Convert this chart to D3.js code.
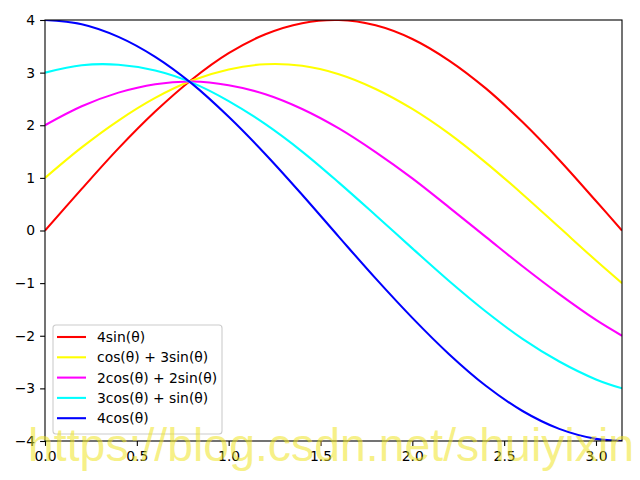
<!DOCTYPE html>
<html>
<head>
<meta charset="utf-8">
<script src="https://cdn.jsdelivr.net/npm/d3@7"></script>
<style>
  body { margin: 0; background: #fff; }
  svg { display: block; font-family: "DejaVu Sans", sans-serif; }
</style>
</head>
<body>
<div class="chart"></div>
<script>
// sampled theta values (0 .. pi)
var theta = [0, 0.2, 0.4, 0.6, 0.8, 1.0, 1.2, 1.4, 1.6, 1.8, 2.0, 2.2, 2.4, 2.6, 2.8, 3.0, 3.1416];

// curve values
var s4sin = [0, 0.79, 1.56, 2.26, 2.87, 3.37, 3.73, 3.94, 4.00, 3.90, 3.64, 3.23, 2.70, 2.06, 1.34, 0.56, 0];
var s1cos3sin = [1.00, 1.58, 2.09, 2.52, 2.85, 3.06, 3.16, 3.13, 2.97, 2.69, 2.31, 1.84, 1.29, 0.69, 0.06, -0.57, -1.00];
var s2cos2sin = [2.00, 2.36, 2.62, 2.78, 2.83, 2.76, 2.59, 2.31, 1.94, 1.49, 0.99, 0.44, -0.12, -0.68, -1.21, -1.70, -2.00];
var s3cos1sin = [3.00, 3.14, 3.15, 3.04, 2.81, 2.46, 2.02, 1.50, 0.91, 0.29, -0.34, -0.96, -1.54, -2.06, -2.49, -2.83, -3.00];
var s4cos = [4.00, 3.92, 3.68, 3.30, 2.79, 2.16, 1.45, 0.68, -0.12, -0.91, -1.66, -2.35, -2.95, -3.43, -3.77, -3.96, -4.00];

var labels = ["4sin(θ)", "cos(θ) + 3sin(θ)", "2cos(θ) + 2sin(θ)", "3cos(θ) + sin(θ)", "4cos(θ)"];
var colors = ["#ff0000", "#ffff00", "#ff00ff", "#00ffff", "#0000ff"];
var series = [s4sin, s1cos3sin, s2cos2sin, s3cos1sin, s4cos];

var xTicks = [0, 0.5, 1.0, 1.5, 2.0, 2.5, 3.0];
var yTicks = [-4, -3, -2, -1, 0, 1, 2, 3, 4];

var margin = { top: 20, right: 18, bottom: 39, left: 45 };
var w = 640, h = 480;
var width = w - margin.left - margin.right,
    height = h - margin.top - margin.bottom;

var svg = d3.select(".chart").append("svg")
    .attr("width", w)
    .attr("height", h);

var g = svg.append("g")
    .attr("transform", "translate(" + margin.left + "," + margin.top + ")");

var x = d3.scaleLinear().domain([0, Math.PI]).range([0, width]);
var y = d3.scaleLinear().domain([-4, 4]).range([height, 0]);

// clip so lines stay inside axes
g.append("clipPath").attr("id", "clip")
    .append("rect").attr("width", width).attr("height", height);

var line = d3.line()
    .x(function(d){ return x(d[0]); })
    .y(function(d){ return y(d[1]); })
    .curve(d3.curveCatmullRom);

var lines = g.append("g").attr("clip-path", "url(#clip)");
series.forEach(function(s, i){
    lines.append("path")
        .datum(theta.map(function(t, j){ return [t, s[j]]; }))
        .attr("fill", "none")
        .attr("stroke", colors[i])
        .attr("stroke-width", 2.08)
        .attr("d", line);
});

// axes
var fmtMinus = function(v){ return String(v).replace("-", "\u2212"); };

var xAxis = g.append("g")
    .attr("transform", "translate(0," + height + ")")
    .call(d3.axisBottom(x).tickValues(xTicks).tickFormat(d3.format(".1f")).tickSizeInner(4.9).tickSizeOuter(0).tickPadding(4.9));

var yAxis = g.append("g")
    .call(d3.axisLeft(y).tickValues(yTicks).tickFormat(fmtMinus).tickSizeInner(4.9).tickSizeOuter(0).tickPadding(4.9));

[xAxis, yAxis].forEach(function(a){
    a.select(".domain").remove();
    a.selectAll("line").attr("stroke", "#000").attr("stroke-width", 1.1);
    a.selectAll("text").attr("fill", "#000").style("font-size", "13.9px").style("font-family", "DejaVu Sans");
});

// frame
g.append("rect")
    .attr("width", width)
    .attr("height", height)
    .attr("fill", "none")
    .attr("stroke", "#000")
    .attr("stroke-width", 1.1);

// legend
var leg = g.append("g").attr("transform", "translate(8," + (height - 116) + ")");
leg.append("rect")
    .attr("width", 169)
    .attr("height", 109)
    .attr("rx", 3)
    .attr("fill", "#fff")
    .attr("fill-opacity", 0.8)
    .attr("stroke", "#cccccc")
    .attr("stroke-width", 1.1);

labels.forEach(function(l, i){
    var yy = 12 + i * 20.3;
    leg.append("line")
        .attr("x1", 4).attr("x2", 33)
        .attr("y1", yy).attr("y2", yy)
        .attr("stroke", colors[i])
        .attr("stroke-width", 2.08);
    leg.append("text")
        .text(l)
        .attr("x", 44)
        .attr("y", yy)
        .attr("dy", "0.36em")
        .style("font-size", "13.9px");
});

// watermark
svg.append("text")
    .text("https://blog.csdn.net/shuiyixin")
    .attr("x", 28)
    .attr("y", 461)
    .attr("fill", "#efe420")
    .attr("fill-opacity", 0.55)
    .style("font-family", "Liberation Sans")
    .style("font-size", "46.4px");
</script>
</body>
</html>
